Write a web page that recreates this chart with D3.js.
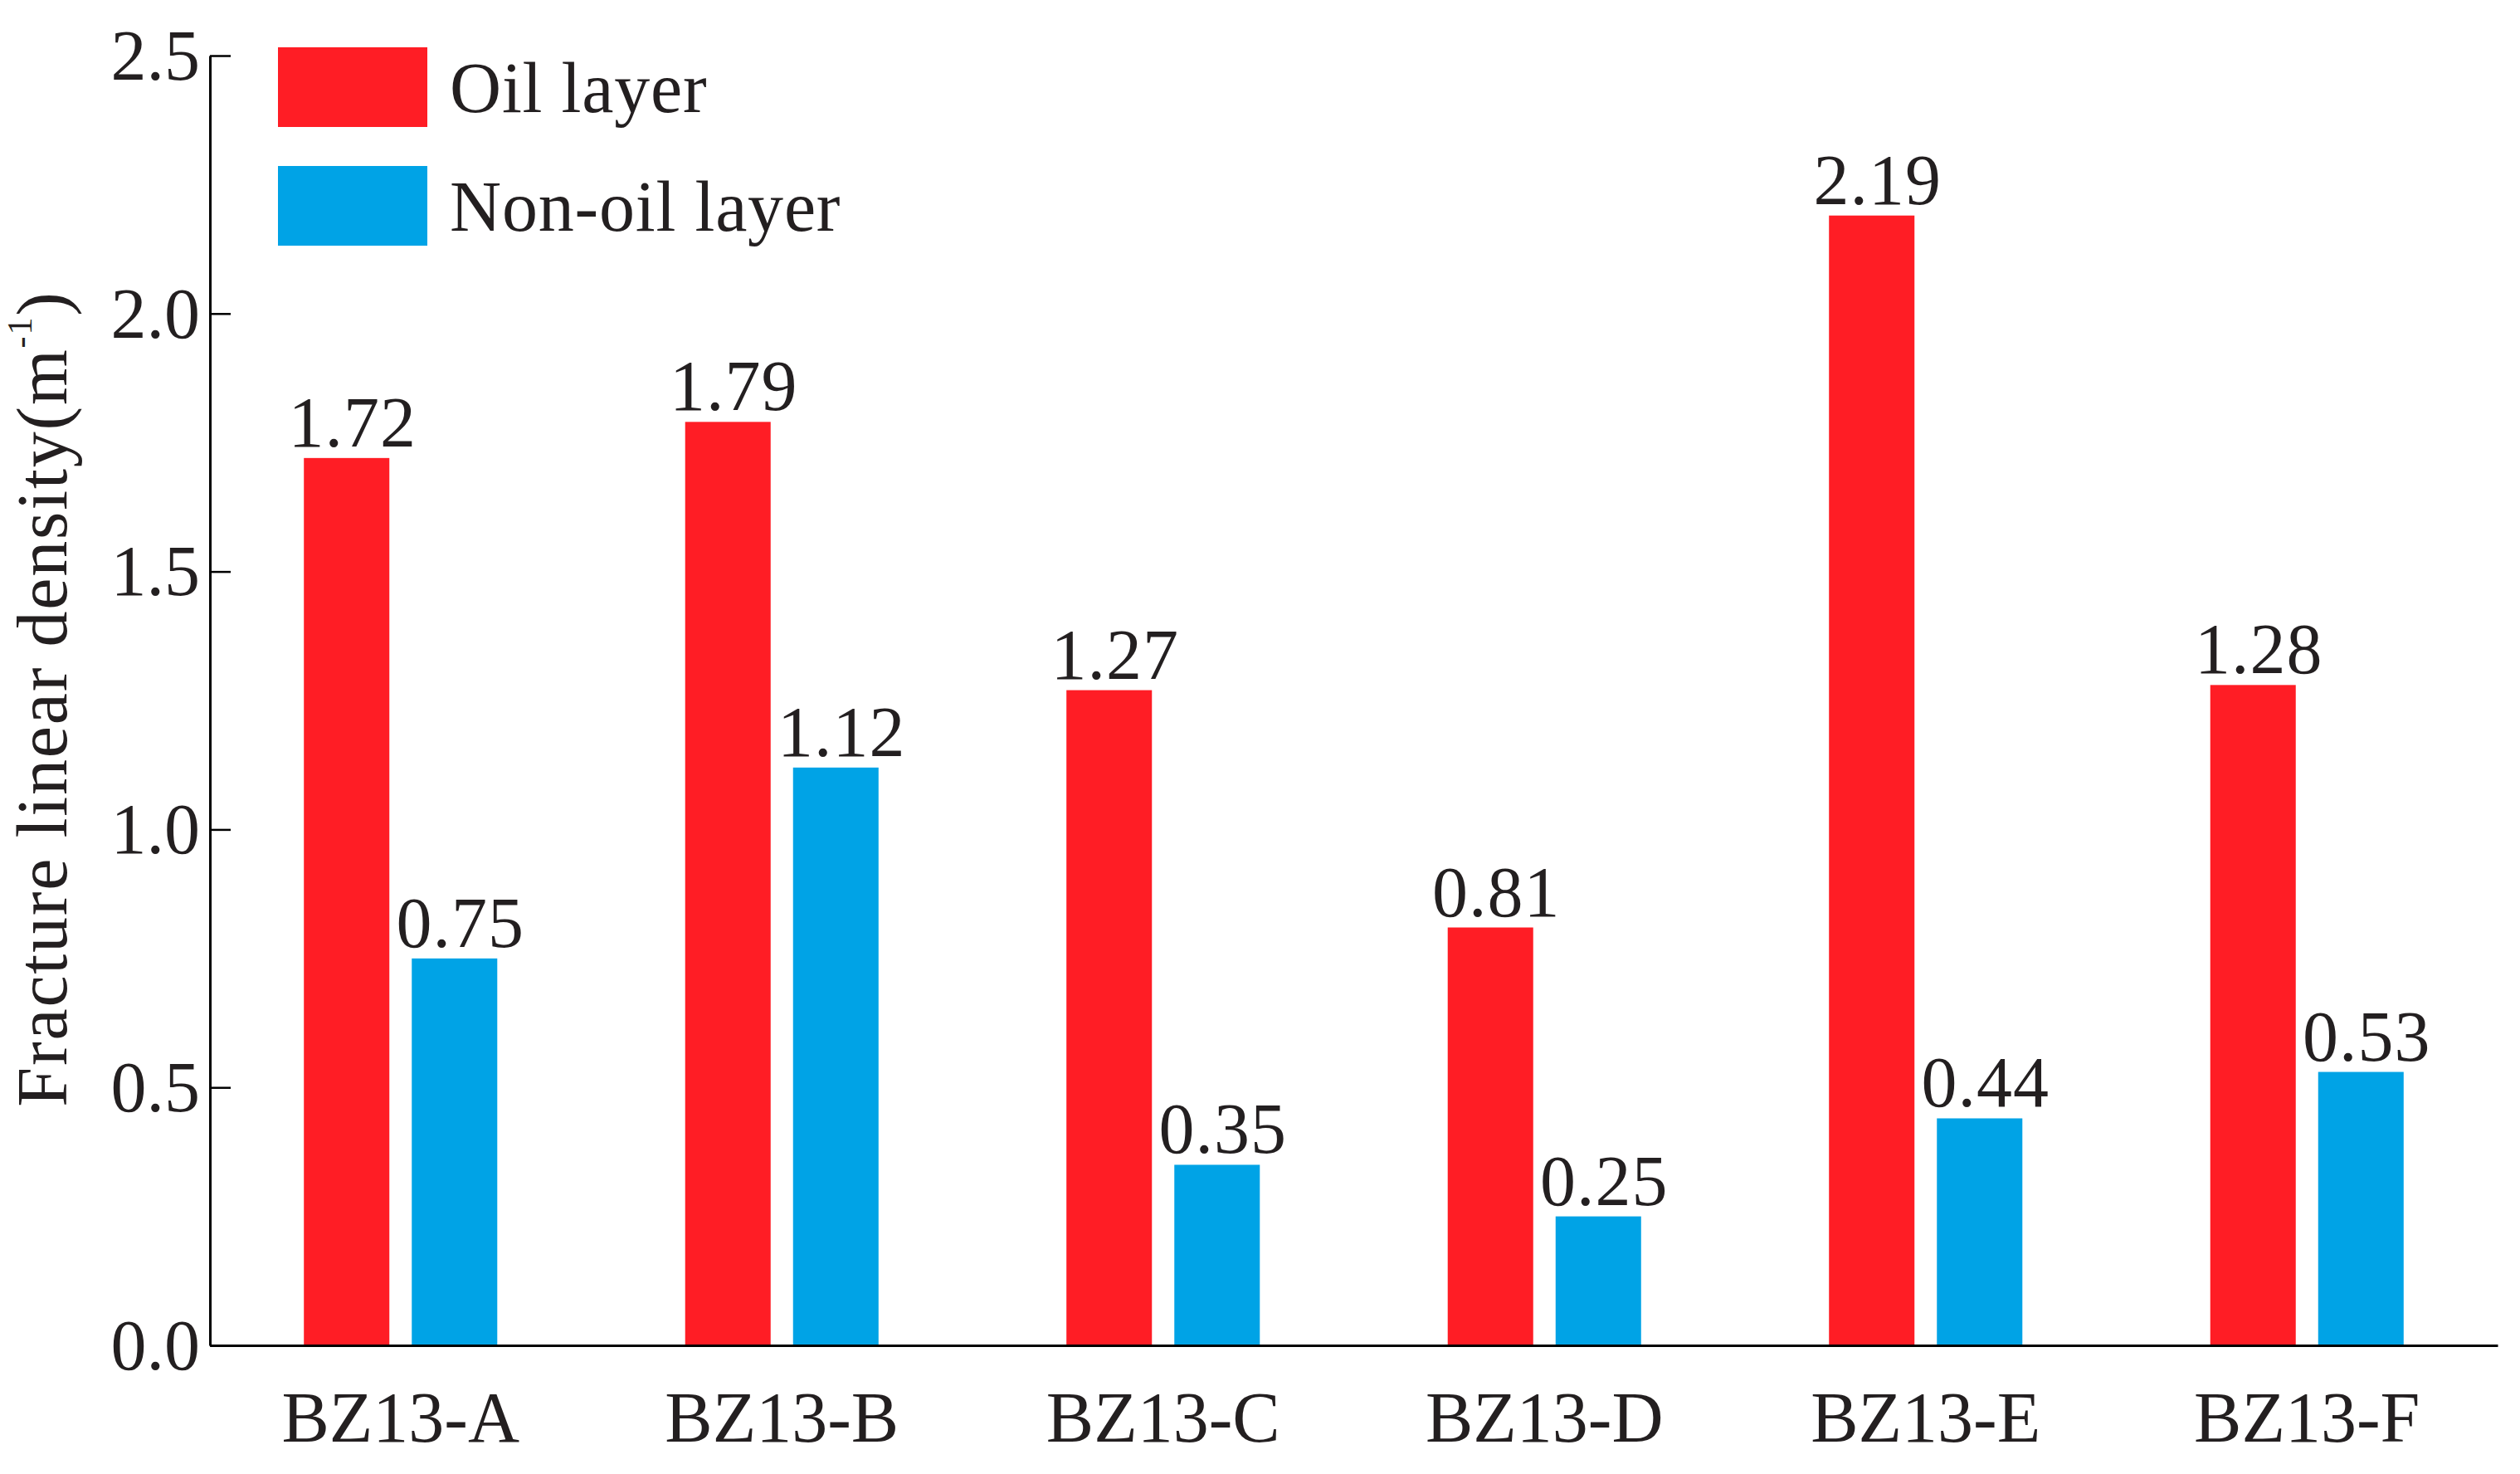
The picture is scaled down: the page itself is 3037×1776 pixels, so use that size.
<!DOCTYPE html>
<html>
<head>
<meta charset="utf-8">
<script src="https://cdn.jsdelivr.net/npm/d3@7"></script>
<style>
    html, body { margin: 0; padding: 0; background: #ffffff; }
    #chart { width: 3037px; height: 1776px; }
    text { font-family: "Liberation Serif", "Times New Roman", serif; fill: #231f20; }
</style>
</head>
<body>
<div id="chart"></div>
<script>
// well names along the x axis
const wells = ["BZ13-A", "BZ13-B", "BZ13-C", "BZ13-D", "BZ13-E", "BZ13-F"];
const series_names = ["Oil layer", "Non-oil layer"];
// fracture linear density (m^-1)
const oil_values = [1.72, 1.79, 1.27, 0.81, 2.19, 1.28];
const non_oil_values = [0.75, 1.12, 0.35, 0.25, 0.44, 0.53];
const y_ticks = [0.0, 0.5, 1.0, 1.5, 2.0, 2.5];

function show_chart() {
    const container = d3.select("#chart");
    const width = 3037;
    const height = 1776;
    const margin_left = 253;
    const margin_right = 27;
    const margin_top = 67;
    const margin_bottom = 155;
    const font_size = 86;

    const oil_color = "#ff1d25";
    const non_oil_color = "#00a3e6";
    const colors = [oil_color, non_oil_color];

    const svg = d3.create("svg")
        .attr("width", width)
        .attr("height", height);

    // table built from the arrays above
    const rows = wells.map((w, i) => ({well: w, values: [oil_values[i], non_oil_values[i]]}));

    const x_scale = d3.scaleBand()
        .domain(wells)
        .range([margin_left, width - margin_right])
        .paddingInner(0.4928)
        .paddingOuter(0.2464);

    const x_sub = d3.scaleBand()
        .domain(d3.range(series_names.length))
        .range([0, x_scale.bandwidth()])
        .paddingInner(0.2077)
        .paddingOuter(0);

    const y_scale = d3.scaleLinear()
        .domain([0, 2.5])
        .range([height - margin_bottom, margin_top]);

    // bars
    const group = svg.append("g")
        .selectAll("g")
        .data(rows)
        .join("g")
        .attr("transform", d => `translate(${x_scale(d.well)},0)`);

    group.selectAll("rect")
        .data(d => d.values.map((v, k) => ({k: k, value: v})))
        .join("rect")
        .attr("x", d => x_sub(d.k))
        .attr("y", d => y_scale(d.value))
        .attr("width", x_sub.bandwidth())
        .attr("height", d => y_scale(0) - y_scale(d.value))
        .attr("fill", d => colors[d.k]);

    // value labels above bars
    group.selectAll("text")
        .data(d => d.values.map((v, k) => ({k: k, value: v})))
        .join("text")
        .attr("x", d => x_sub(d.k) + x_sub.bandwidth() / 2 + 7)
        .attr("y", d => y_scale(d.value) - 14)
        .attr("text-anchor", "middle")
        .attr("font-size", font_size)
        .attr("letter-spacing", 1)
        .text(d => d3.format(".2f")(d.value));

    // y axis, ticks pointing inward
    const y_axis = svg.append("g")
        .attr("transform", `translate(${margin_left},0)`)
        .call(d3.axisLeft(y_scale)
            .tickValues(y_ticks)
            .tickFormat(d3.format(".1f"))
            .tickSize(-25)
            .tickSizeOuter(0)
            .tickPadding(12));
    y_axis.select(".domain").attr("stroke", "#000").attr("stroke-width", 3);
    y_axis.selectAll(".tick line").attr("stroke", "#000").attr("stroke-width", 2.5);
    y_axis.selectAll(".tick text")
        .attr("font-size", font_size)
        .attr("font-family", null)
        .attr("fill", "#231f20")
        .attr("dy", "0.33em");

    // x axis
    const x_axis = svg.append("g")
        .attr("transform", `translate(0,${y_scale(0)})`)
        .call(d3.axisBottom(x_scale)
            .tickSize(0)
            .tickSizeOuter(0)
            .tickPadding(55));
    x_axis.select(".domain").attr("stroke", "#000").attr("stroke-width", 3);
    x_axis.selectAll(".tick text")
        .attr("font-size", font_size)
        .attr("font-family", null)
        .attr("fill", "#231f20");

    // y axis title with superscript
    const y_title = svg.append("text")
        .attr("transform", "translate(80,842) rotate(-90)")
        .attr("text-anchor", "middle")
        .attr("font-size", font_size)
        .attr("letter-spacing", 1.8);
    y_title.append("tspan").text("Fracture linear density(m");
    y_title.append("tspan").attr("font-size", 42).attr("dy", -42).text("-1");
    y_title.append("tspan").attr("dy", 42).text(")");

    // legend
    const legend = svg.append("g")
        .selectAll("g")
        .data(series_names)
        .join("g")
        .attr("transform", (d, i) => `translate(335,${57 + i * 143})`);
    legend.append("rect")
        .attr("width", 180)
        .attr("height", 96)
        .attr("fill", (d, i) => colors[i]);
    legend.append("text")
        .attr("x", 207)
        .attr("y", 78)
        .attr("font-size", font_size)
        .attr("letter-spacing", 0.8)
        .text(d => d);

    container.node().append(svg.node());
}

show_chart();
</script>
</body>
</html>
